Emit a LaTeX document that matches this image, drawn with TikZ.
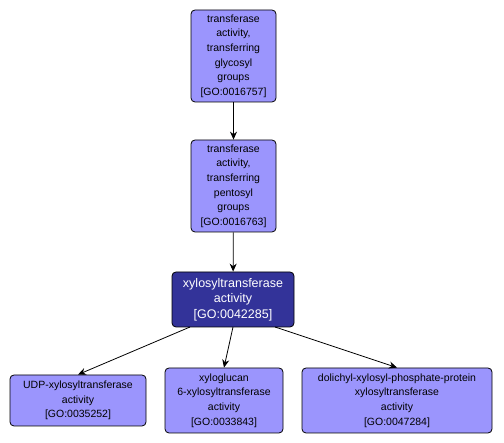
\documentclass[tikz,border=0pt]{standalone}
\usepackage{fontspec}
\setmainfont{Liberation Sans}
\usetikzlibrary{arrows.meta}
\definecolor{golight}{HTML}{9B95FD}
\definecolor{godark}{HTML}{333399}
\tikzset{
  term/.style={draw=black, line width=0.8pt, rounded corners=4pt, fill=golight,
    align=center, inner sep=0pt, font=\fontsize{10.5}{14.6}\selectfont},
  focus/.style={term, fill=godark, text=white, font=\fontsize{12.5}{15.5}\selectfont},
  isa/.style={-{Stealth[length=8pt,width=7pt]}, line width=0.8pt}
}
\begin{document}
\begin{tikzpicture}[x=1pt,y=-1pt]
\useasboundingbox (0,0) rectangle (504,443);
\node[term, minimum width=85pt, minimum height=92pt] (n1) at (233.5,56) {transferase\\activity,\\transferring\\glycosyl\\groups\\{[GO:0016757]}};
\node[term, minimum width=85pt, minimum height=92pt] (n2) at (233.5,186) {transferase\\activity,\\transferring\\pentosyl\\groups\\{[GO:0016763]}};
\node[focus, minimum width=122pt, minimum height=55pt] (n3) at (233,299.5) {xylosyltransferase\\activity\\{[GO:0042285]}};
\node[term, minimum width=136pt, minimum height=51pt] (n4) at (78,400.5) {UDP-xylosyltransferase\\activity\\{[GO:0035252]}};
\node[term, minimum width=118pt, minimum height=65pt] (n5) at (224,400.5) {xyloglucan\\6-xylosyltransferase\\activity\\{[GO:0033843]}};
\node[term, minimum width=190pt, minimum height=65pt] (n6) at (397,400.5) {dolichyl-xylosyl-phosphate-protein\\xylosyltransferase\\activity\\{[GO:0047284]}};
\coordinate (s4) at (190,327);
\coordinate (s5) at (233,327);
\coordinate (s6) at (275,327);
\draw[isa] (n1) -- (n2);
\draw[isa] (n2) -- (n3);
\draw[isa] (s4) -- (n4.north);
\draw[isa] (s5) -- (n5.north);
\draw[isa] (s6) -- (n6.north);
\end{tikzpicture}
\end{document}
